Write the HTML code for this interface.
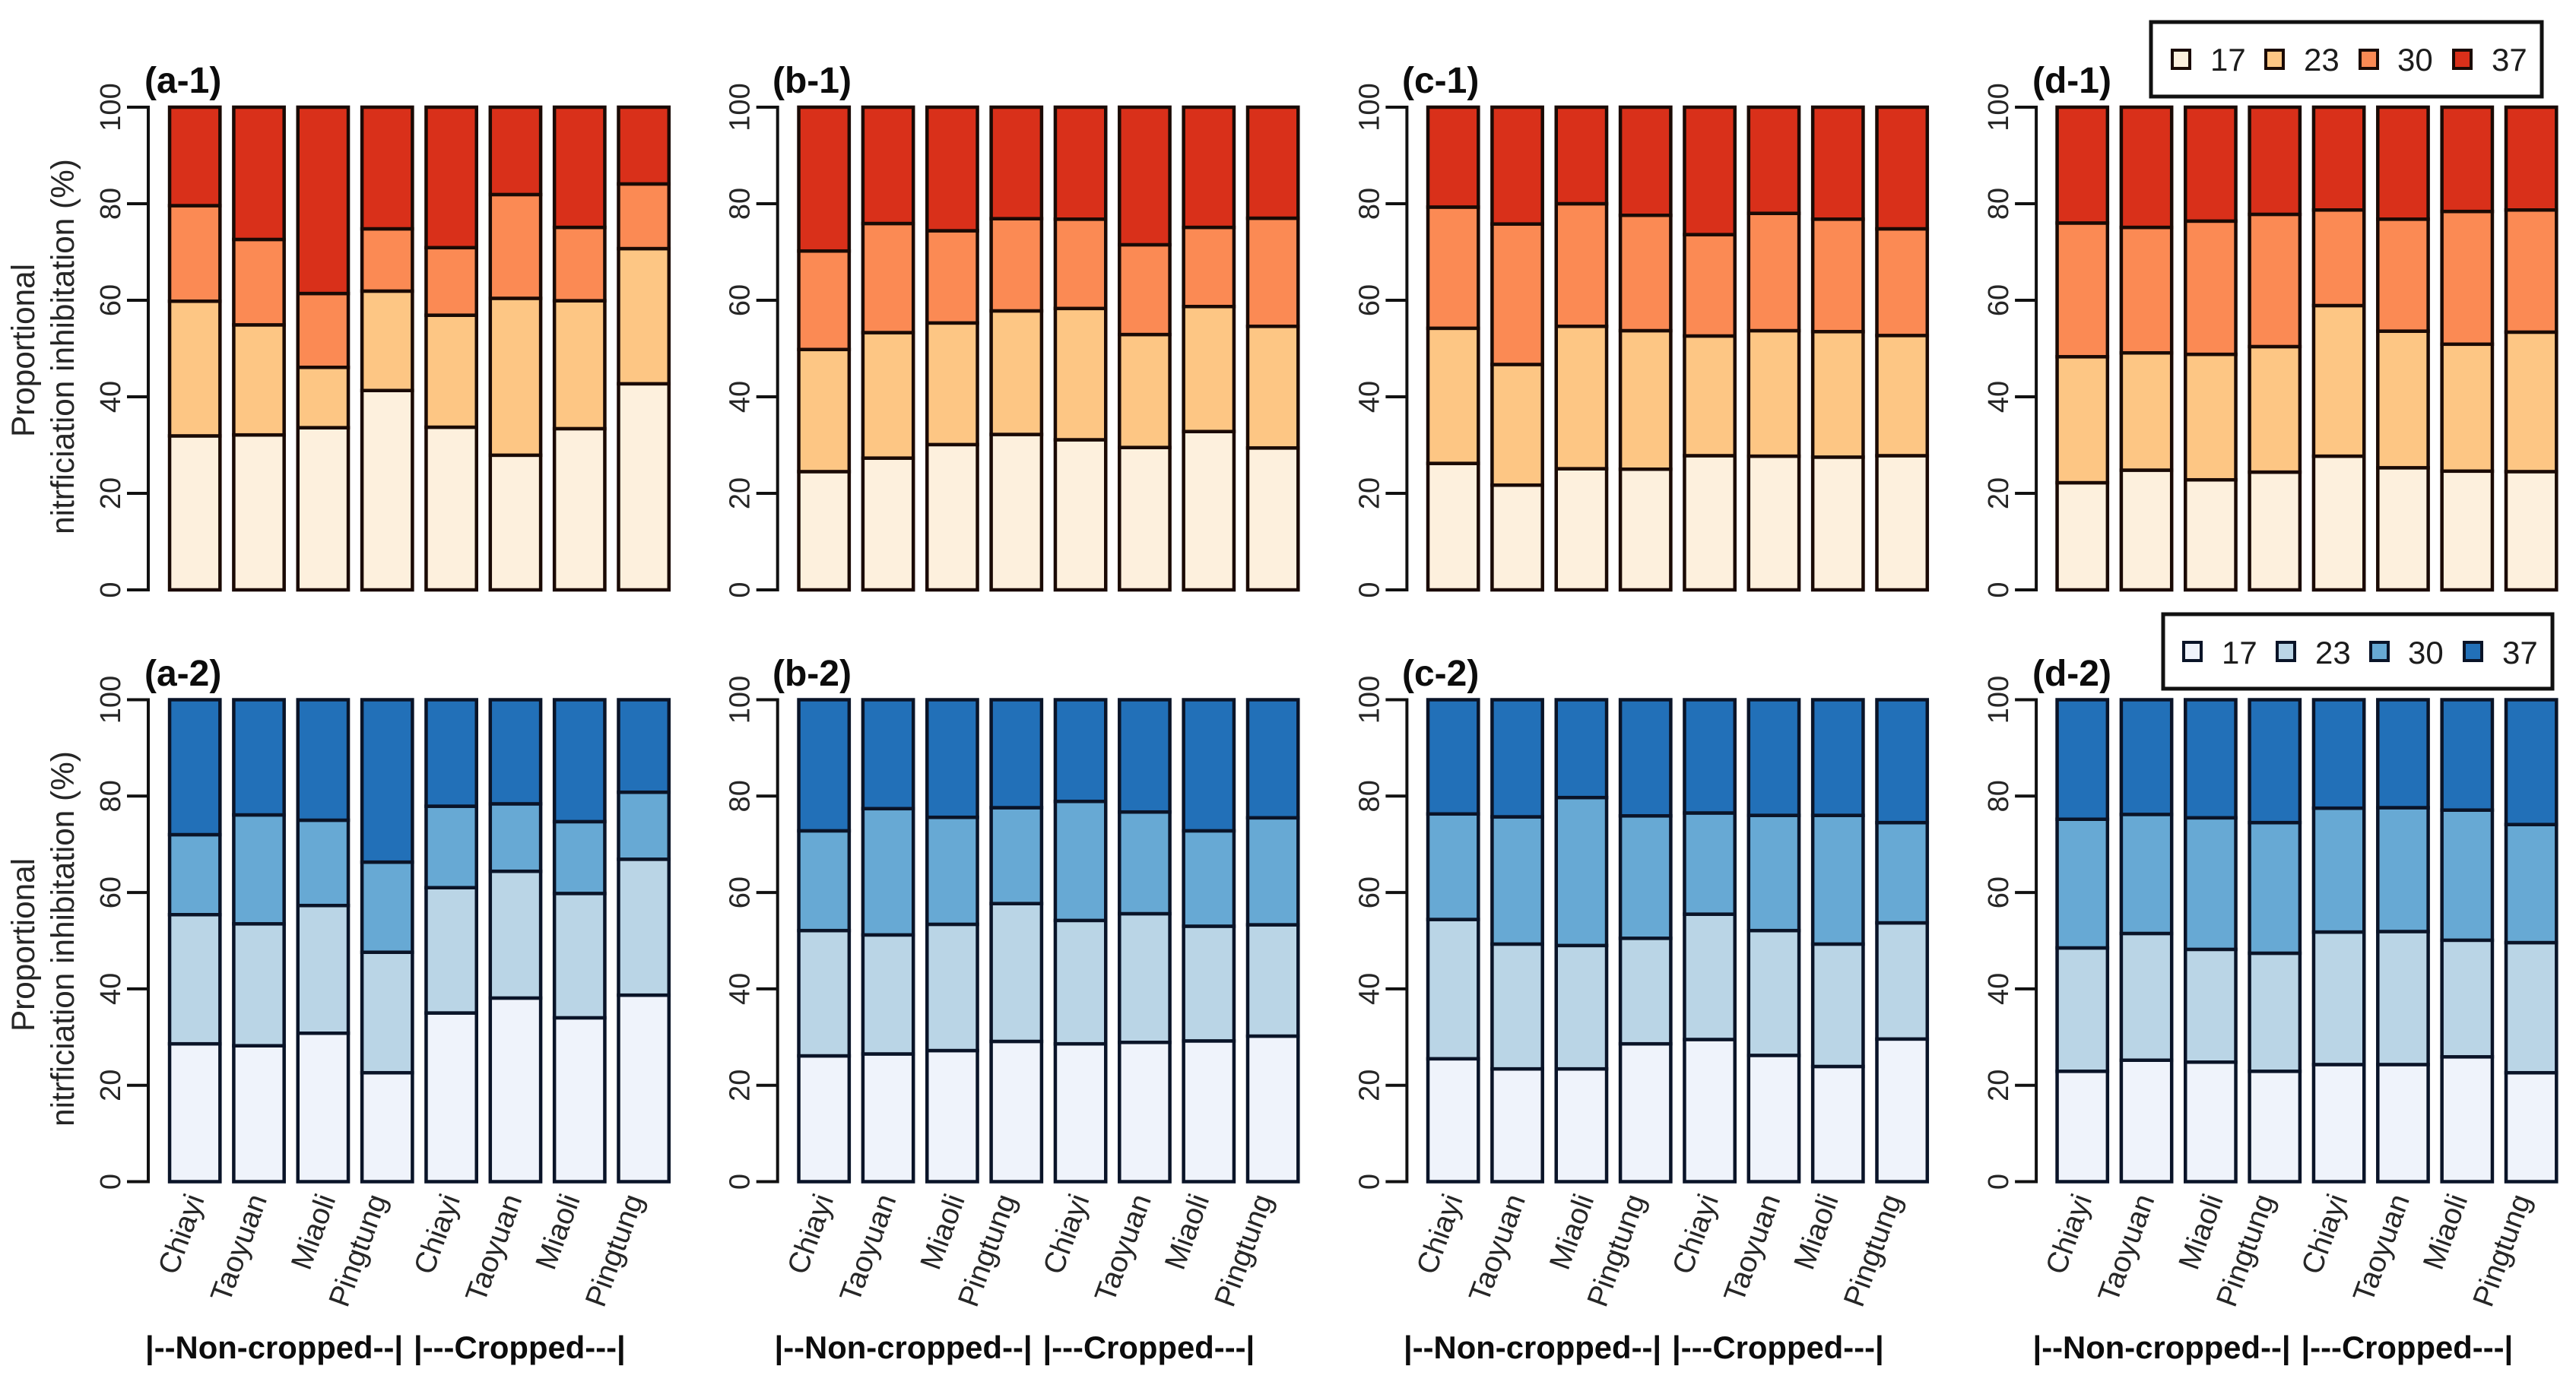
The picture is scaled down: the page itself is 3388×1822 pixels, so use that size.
<!DOCTYPE html>
<html lang="en">
<head>
<meta charset="utf-8">
<title>Proportional nitrification inhibition</title>
<style>
html,body{margin:0;padding:0;background:#fff;}
svg{display:block;}
text{font-family:"Liberation Sans",Arial,sans-serif;fill:#1c1c1c;}
.panel-label{font-size:48px;font-weight:bold;fill:#0c0c0c;}
.y-title{font-size:42.3px;text-anchor:middle;fill:#262626;}
.group{font-size:41.8px;font-weight:bold;fill:#0c0c0c;}
.legend-text{font-size:42px;fill:#1c1c1c;}
.tick-label{font-size:38px;text-anchor:middle;fill:#262626;}
.cat-label{font-size:39px;text-anchor:end;fill:#262626;}
</style>
</head>
<body>
<svg id="chart" xmlns="http://www.w3.org/2000/svg" width="3388" height="1822" viewBox="0 0 3388 1822">
  <rect x="0" y="0" width="3388" height="1822" fill="#ffffff"/>

  <g id="marks"></g>

  <g>
    <text class="panel-label" x="190" y="122">(a-1)</text>
    <text class="panel-label" x="1016" y="122">(b-1)</text>
    <text class="panel-label" x="1844" y="122">(c-1)</text>
    <text class="panel-label" x="2673" y="122">(d-1)</text>
    <text class="panel-label" x="190" y="902">(a-2)</text>
    <text class="panel-label" x="1016" y="902">(b-2)</text>
    <text class="panel-label" x="1844" y="902">(c-2)</text>
    <text class="panel-label" x="2673" y="902">(d-2)</text>
  </g>

  <g>
    <text class="y-title" transform="translate(45,461) rotate(-90)">Proportional</text>
    <text class="y-title" transform="translate(97,456) rotate(-90)">nitrficiation inhibitation (%)</text>
    <text class="y-title" transform="translate(45,1243) rotate(-90)">Proportional</text>
    <text class="y-title" transform="translate(97,1235) rotate(-90)">nitrficiation inhibitation (%)</text>
  </g>

  <g>
    <text class="group" x="191" y="1787">|--Non-cropped--|</text>
    <text class="group" x="544" y="1787">|---Cropped---|</text>
    <text class="group" x="1018.5" y="1787">|--Non-cropped--|</text>
    <text class="group" x="1371.5" y="1787">|---Cropped---|</text>
    <text class="group" x="1846" y="1787">|--Non-cropped--|</text>
    <text class="group" x="2199" y="1787">|---Cropped---|</text>
    <text class="group" x="2673.5" y="1787">|--Non-cropped--|</text>
    <text class="group" x="3026.5" y="1787">|---Cropped---|</text>
  </g>

  <g>
    <rect x="2829" y="29" width="514" height="98" fill="#fff" stroke="#111" stroke-width="5"/>
    <rect x="2857" y="66" width="23" height="24" fill="#fdf0dd" stroke="#1a0a05" stroke-width="4"/>
    <text class="legend-text" x="2907" y="93">17</text>
    <rect x="2980" y="66" width="23" height="24" fill="#fdc684" stroke="#1a0a05" stroke-width="4"/>
    <text class="legend-text" x="3030" y="93">23</text>
    <rect x="3104" y="66" width="23" height="24" fill="#fb8a54" stroke="#1a0a05" stroke-width="4"/>
    <text class="legend-text" x="3153" y="93">30</text>
    <rect x="3227" y="66" width="23" height="24" fill="#d9301a" stroke="#1a0a05" stroke-width="4"/>
    <text class="legend-text" x="3277" y="93">37</text>
  </g>

  <g>
    <rect x="2845" y="808" width="512" height="98" fill="#fff" stroke="#111" stroke-width="5"/>
    <rect x="2872" y="845" width="23" height="24" fill="#eff3fb" stroke="#0a1428" stroke-width="4"/>
    <text class="legend-text" x="2922" y="873">17</text>
    <rect x="2995" y="845" width="23" height="24" fill="#bad5e6" stroke="#0a1428" stroke-width="4"/>
    <text class="legend-text" x="3045" y="873">23</text>
    <rect x="3118" y="845" width="23" height="24" fill="#67a9d4" stroke="#0a1428" stroke-width="4"/>
    <text class="legend-text" x="3167" y="873">30</text>
    <rect x="3241" y="845" width="23" height="24" fill="#2270b8" stroke="#0a1428" stroke-width="4"/>
    <text class="legend-text" x="3291" y="873">37</text>
  </g>
</svg>

<script>
const categories = ['Chiayi','Taoyuan','Miaoli','Pingtung','Chiayi','Taoyuan','Miaoli','Pingtung'];
const yTicks = [0,20,40,60,80,100];
const temperatures = ['17','23','30','37'];

const a1T17 = [31.9,32.1,33.6,41.3,33.7,27.9,33.4,42.7];
const a1T23 = [27.9,22.8,12.5,20.6,23.2,32.5,26.5,28.0];
const a1T30 = [19.8,17.7,15.3,12.9,14.0,21.5,15.2,13.4];
const a1T37 = [20.4,27.4,38.6,25.2,29.1,18.1,24.9,15.9];

const b1T17 = [24.5,27.3,30.1,32.2,31.1,29.5,32.8,29.4];
const b1T23 = [25.3,26.0,25.2,25.6,27.2,23.4,25.9,25.2];
const b1T30 = [20.4,22.6,19.1,19.1,18.5,18.6,16.4,22.4];
const b1T37 = [29.8,24.1,25.6,23.1,23.2,28.5,24.9,23.0];

const c1T17 = [26.2,21.7,25.1,25.0,27.8,27.7,27.5,27.8];
const c1T23 = [28.0,25.0,29.5,28.7,24.8,26.0,26.0,24.9];
const c1T30 = [25.1,29.1,25.4,23.9,21.0,24.3,23.3,22.1];
const c1T37 = [20.7,24.2,20.0,22.4,26.4,22.0,23.2,25.2];

const d1T17 = [22.2,24.8,22.8,24.4,27.7,25.3,24.6,24.5];
const d1T23 = [26.1,24.3,26.0,26.0,31.2,28.3,26.3,28.9];
const d1T30 = [27.7,26.0,27.6,27.4,19.8,23.2,27.5,25.3];
const d1T37 = [24.0,24.9,23.6,22.2,21.3,23.2,21.6,21.3];

const a2T17 = [28.6,28.2,30.8,22.6,35.0,38.1,34.0,38.7];
const a2T23 = [26.8,25.3,26.5,25.0,26.0,26.3,25.8,28.2];
const a2T30 = [16.6,22.6,17.7,18.7,16.9,14.0,14.9,13.9];
const a2T37 = [28.0,23.9,25.0,33.7,22.1,21.6,25.3,19.2];

const b2T17 = [26.1,26.5,27.2,29.1,28.6,28.9,29.2,30.2];
const b2T23 = [26.0,24.7,26.2,28.6,25.6,26.7,23.8,23.1];
const b2T30 = [20.7,26.2,22.2,19.9,24.7,21.1,19.8,22.2];
const b2T37 = [27.2,22.6,24.4,22.4,21.1,23.3,27.2,24.5];

const c2T17 = [25.5,23.4,23.4,28.6,29.5,26.2,23.9,29.6];
const c2T23 = [28.9,25.9,25.6,21.9,26.0,25.9,25.4,24.1];
const c2T30 = [21.9,26.4,30.7,25.4,21.0,23.9,26.7,20.8];
const c2T37 = [23.7,24.3,20.3,24.1,23.5,24.0,24.0,25.5];

const d2T17 = [22.9,25.2,24.8,22.9,24.3,24.3,25.9,22.6];
const d2T23 = [25.6,26.3,23.4,24.5,27.5,27.6,24.2,27.0];
const d2T30 = [26.7,24.7,27.3,27.1,25.7,25.7,27.0,24.5];
const d2T37 = [24.8,23.8,24.5,25.5,22.5,22.4,22.9,25.9];

const panelSeries = [
  [[a1T17,a1T23,a1T30,a1T37],[b1T17,b1T23,b1T30,b1T37],[c1T17,c1T23,c1T30,c1T37],[d1T17,d1T23,d1T30,d1T37]],
  [[a2T17,a2T23,a2T30,a2T37],[b2T17,b2T23,b2T30,b2T37],[c2T17,c2T23,c2T30,c2T37],[d2T17,d2T23,d2T30,d2T37]]
];
const columnIds = ['a','b','c','d'];
const warmColors = ['#fdf0dd','#fdc684','#fb8a54','#d9301a'];
const coolColors = ['#eff3fb','#bad5e6','#67a9d4','#2270b8'];
const rowStrokes = ['#1a0a05','#0a1428'];

const NS = 'http://www.w3.org/2000/svg';
const marks = document.getElementById('marks');

function make(tag, attrs, parent) {
  const node = document.createElementNS(NS, tag);
  for (const k in attrs) node.setAttribute(k, attrs[k]);
  parent.appendChild(node);
  return node;
}
function yScale(row, v) {
  const y0 = row === 0 ? 776 : 1554.5;
  const y100 = row === 0 ? 141 : 920.5;
  return y0 + (y100 - y0) * v / 100;
}
function barLeft(col, i) {
  return 220.8 + 827.5 * col + 84.35 * i;
}
function axisX(col) {
  return 195 + 827.7 * col;
}
function labelNudge(i) {
  const nudges = [13, 11, 17, 0, 12, 9, 1, 0];
  return nudges[i];
}
const BAR_OUTER = 70.8;
const STROKE = 4.5;

panelSeries.forEach(function (rowPanels, row) {
  const colors = row === 0 ? warmColors : coolColors;
  rowPanels.forEach(function (series, col) {
    const panel = make('g', {}, marks);
    
    

    categories.forEach(function (cat, i) {
      let base = 0;
      series.forEach(function (values, s) {
        const v = values[i];
        const top = base + v;
        const rect = make('rect', {
          x: barLeft(col, i) + STROKE / 2,
          y: yScale(row, top),
          width: BAR_OUTER - STROKE,
          height: yScale(row, base) - yScale(row, top),
          fill: colors[s],
          stroke: rowStrokes[row],
          'stroke-width': STROKE
        }, panel);
        
        
        base = top;
      });
    });

    const ax = axisX(col);
    const axisLine = make('line', {
      x1: ax, x2: ax, y1: yScale(row, 0) + 2, y2: yScale(row, 100) - 2,
      stroke: '#111', 'stroke-width': 4
    }, panel);
    
    

    yTicks.forEach(function (t) {
      const tick = make('line', {
        x1: ax - 28, x2: ax, y1: yScale(row, t), y2: yScale(row, t),
        stroke: '#111', 'stroke-width': 4
      }, panel);
      
      

      const label = make('text', {
        class: 'tick-label',
        transform: 'translate(' + (ax - 37) + ',' + yScale(row, t) + ') rotate(-90)'
      }, panel);
      label.textContent = String(t);
      
      
    });

    if (row === 1) {
      categories.forEach(function (cat, i) {
        const cx = barLeft(col, i) + BAR_OUTER / 2;
        const label = make('text', {
          class: 'cat-label',
          transform: 'translate(' + (cx + labelNudge(i)) + ',1577) rotate(-70)'
        }, panel);
        label.textContent = cat;
        
        
      });
    }
  });
});
</script>
</body>
</html>
